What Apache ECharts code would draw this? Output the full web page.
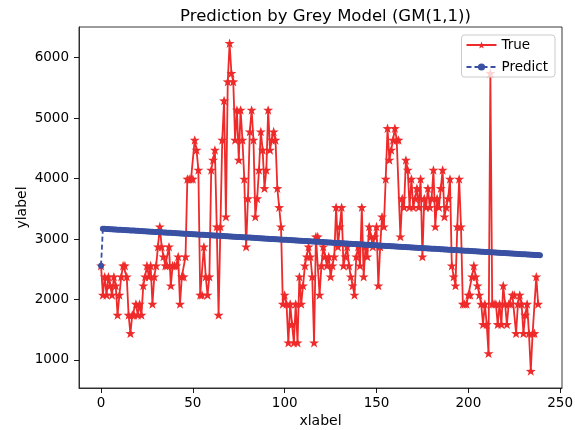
<!DOCTYPE html>
<html>
<head>
<meta charset="utf-8">
<script src="https://cdn.jsdelivr.net/npm/echarts@6/dist/echarts.min.js"></script>
<style>html,body{margin:0;padding:0;background:#fff}#c{width:575px;height:430px}</style>
</head>
<body>
<div id="c"></div>
<script>
const trueVals = [2560,2075,2378,2075,2378,2230,2075,2378,2230,1744,
 2075,2378,2560,2560,2378,1744,1441,1744,1744,1926,
 1744,1926,1744,2230,2378,2560,2378,2560,1926,2378,
 2560,2874,3205,2874,2709,2560,2560,2874,2230,2560,
 2560,2560,2709,1926,2378,2378,2709,3993,3993,3993,
 3993,4638,4473,4142,2075,2075,2874,2378,2075,2378,
 4142,4308,4473,3205,1744,3205,4638,5289,3370,5603,
 6237,5741,5603,4638,5134,4308,5134,4638,3993,2874,
 3670,4776,5134,4638,3370,3670,4142,4776,4473,3839,
 4142,5134,4473,4638,4776,4638,3839,3525,3205,1926,
 2075,1926,1287,1926,1590,1287,1926,1287,2378,1926,
 2230,2560,2709,2874,2709,2378,1287,3040,3040,2075,
 2560,2874,2709,2560,2709,2378,2560,2709,3525,2874,
 3205,3525,2560,2709,2874,2560,2378,2230,2075,2709,
 2874,2560,3525,2378,2874,2709,3205,3040,2874,3040,
 3205,2230,2874,3370,3205,3993,4831,4308,4473,4638,
 4831,4638,4638,3040,3670,3525,4308,4142,3525,3993,
 3525,3670,3839,3525,3993,2709,3670,3525,3839,3525,
 3670,4142,3205,3670,3525,3839,4142,3370,3525,3670,
 3993,2560,2378,2230,3205,3993,3205,1926,1926,1926,
 2075,2075,2378,2560,2378,2230,2075,1926,1590,1926,
 1590,1110,5741,1926,1926,1926,1590,1926,1590,2230,
 1926,1590,1926,1926,2075,2075,1441,1926,2075,1926,
 1441,1744,1926,1441,818,1441,1441,2378,1926];

const predictVals = [2560,
 3170,3168,3166,3164,3163,3161,3159,3157,3155,3153,
 3152,3150,3148,3146,3144,3142,3140,3139,3137,3135,
 3133,3131,3130,3128,3126,3124,3122,3120,3118,3117,
 3115,3113,3111,3109,3107,3105,3104,3102,3100,3098,
 3096,3095,3093,3091,3089,3087,3085,3083,3081,3080,
 3078,3076,3074,3072,3070,3069,3067,3065,3063,3061,
 3060,3058,3056,3054,3052,3050,3048,3046,3045,3043,
 3041,3039,3037,3035,3034,3032,3030,3028,3026,3024,
 3023,3021,3019,3017,3015,3013,3011,3010,3008,3006,
 3004,3002,3000,2999,2997,2995,2993,2991,2989,2988,
 2986,2984,2982,2980,2978,2976,2975,2973,2971,2969,
 2968,2966,2964,2962,2960,2958,2956,2954,2953,2951,
 2949,2947,2945,2943,2942,2940,2938,2936,2934,2933,
 2931,2929,2927,2925,2923,2921,2919,2918,2916,2914,
 2912,2910,2909,2907,2905,2903,2901,2899,2898,2896,
 2894,2892,2890,2888,2886,2885,2883,2881,2879,2877,
 2876,2874,2872,2870,2868,2866,2864,2862,2861,2859,
 2857,2855,2853,2851,2850,2848,2846,2844,2842,2841,
 2839,2837,2835,2833,2831,2829,2827,2826,2824,2822,
 2820,2818,2817,2815,2813,2811,2809,2807,2806,2804,
 2802,2800,2798,2796,2794,2793,2791,2789,2787,2785,
 2784,2782,2780,2778,2776,2774,2772,2770,2769,2767,
 2765,2763,2761,2759,2758,2756,2754,2752,2750,2749,
 2747,2745,2743,2741,2739,2737,2735,2734,2732];

const xTicks = [0, 50, 100, 150, 200, 250];
const yTicks = [1000, 2000, 3000, 4000, 5000, 6000];
const seriesNames = ['True', 'Predict'];
const titleText = 'Prediction by Grey Model (GM(1,1))';

const STAR = 'path://M0,-10 L2.35,-3.24 L9.51,-3.09 L3.80,1.24 L5.88,8.09 L0,4 L-5.88,8.09 L-3.80,1.24 L-9.51,-3.09 L-2.35,-3.24 Z';
const RED = '#ee2a2a';
const BLUE = '#3a51a3';
const FONT = 'DejaVu Sans';

const chart = echarts.init(document.getElementById('c'), null, {renderer: 'canvas'});
chart.setOption({
  animation: false,
  backgroundColor: '#fff',
  title: {
    text: titleText, left: 320.5, top: 3, textAlign: 'center',
    textStyle: {fontFamily: FONT, fontSize: 16.5, fontWeight: 'normal', color: '#000'}
  },
  grid: {left: 79, right: 13, top: 27, bottom: 42, show: true, borderColor: '#222', borderWidth: 0.9,
    backgroundColor: 'transparent', containLabel: false, outerBoundsMode: 'none'},
  legend: {
    data: seriesNames, orient: 'vertical', right: 20, top: 35,
    itemWidth: 30, itemHeight: 9, itemGap: 8,
    backgroundColor: 'rgba(255,255,255,0.8)', borderColor: '#cccccc', borderWidth: 1, borderRadius: 3,
    padding: [3, 7, 3, 4],
    textStyle: {fontFamily: FONT, fontSize: 13.5, color: '#000'}
  },
  xAxis: {
    type: 'value', min: -12, max: 251,
    name: 'xlabel', nameLocation: 'middle', nameGap: 26, nameMoveOverlap: false,
    nameTextStyle: {fontFamily: FONT, fontSize: 14, color: '#000'},
    axisLine: {show: true, onZero: false, lineStyle: {color: '#222', width: 0.9}},
    splitLine: {show: false},
    axisTick: {show: true, inside: false, length: 5, customValues: xTicks, lineStyle: {color: '#000', width: 0.9}},
    axisLabel: {customValues: xTicks, fontFamily: FONT, fontSize: 13.5, color: '#000', margin: 8,
      formatter: v => String(v)}
  },
  yAxis: {
    type: 'value', min: 537, max: 6505,
    name: 'ylabel', nameLocation: 'middle', nameGap: 50, nameRotate: 90, nameMoveOverlap: false,
    nameTextStyle: {fontFamily: FONT, fontSize: 14, color: '#000'},
    axisLine: {show: true, onZero: false, lineStyle: {color: '#222', width: 0.9}},
    splitLine: {show: false},
    axisTick: {show: true, inside: false, length: 5, customValues: yTicks, lineStyle: {color: '#000', width: 0.9}},
    axisLabel: {customValues: yTicks, fontFamily: FONT, fontSize: 13.5, color: '#000', margin: 10,
      formatter: v => String(v)}
  },
  series: [
    {
      name: seriesNames[0], type: 'line',
      data: trueVals.map((v, i) => [i, v]),
      symbol: STAR, symbolSize: 10, symbolKeepAspect: true,
      showAllSymbol: true,
      lineStyle: {color: RED, width: 1.8},
      itemStyle: {color: RED, borderWidth: 0},
      z: 3
    },
    {
      name: seriesNames[1], type: 'line',
      data: predictVals.map((v, i) => [i, v]),
      symbol: 'circle', symbolSize: 6,
      showAllSymbol: true,
      lineStyle: {color: BLUE, width: 1.8, type: [5, 3]},
      itemStyle: {color: BLUE, borderWidth: 0},
      z: 4
    }
  ]
});
</script>
</body>
</html>
